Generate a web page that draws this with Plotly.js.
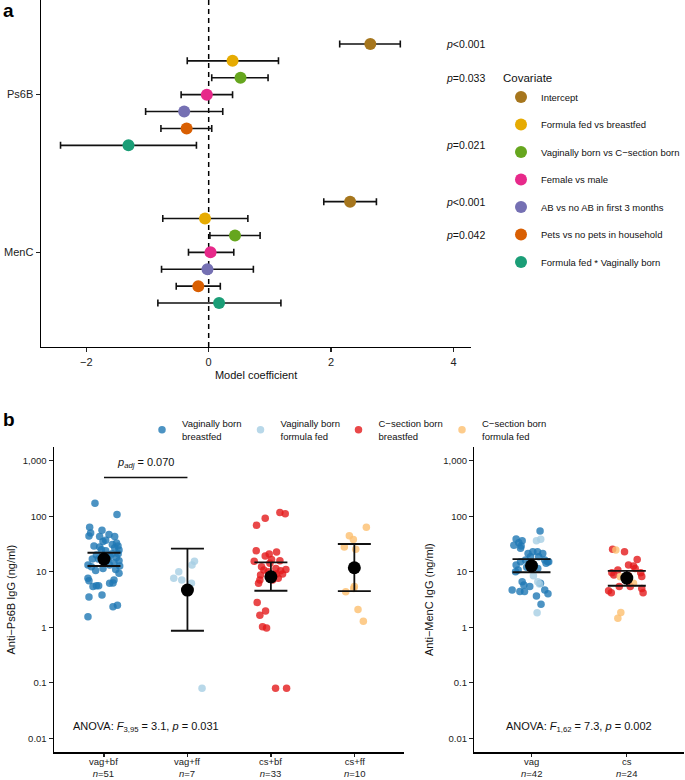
<!DOCTYPE html>
<html><head><meta charset="utf-8">
<script src="https://cdn.plot.ly/plotly-3.0.1.min.js"></script>
<style>html,body{margin:0;padding:0;background:#fff}#chart{width:685px;height:780px}</style>
</head><body><div id="chart"></div>
<script>
// ---------- Panel a data ----------
const covariates = ['Intercept','Formula fed vs breastfed','Vaginally born vs C\u2212section born','Female vs male','AB vs no AB in first 3 months','Pets vs no pets in household','Formula fed * Vaginally born'];
const covColors = ['#A6761D','#E6AB02','#66A61E','#E7298A','#7570B3','#D95F02','#1B9E77'];
const antigens = ['MenC','Ps6B'];
const coefPs6B = [2.64, 0.39, 0.52, -0.03, -0.40, -0.36, -1.31];
const lowPs6B  = [2.14, -0.35, 0.05, -0.45, -1.03, -0.78, -2.42];
const highPs6B = [3.13, 1.14, 0.97, 0.39, 0.23, 0.05, -0.20];
const coefMenC = [2.31, -0.06, 0.43, 0.03, -0.02, -0.17, 0.17];
const lowMenC  = [1.88, -0.75, 0.02, -0.33, -0.77, -0.53, -0.83];
const highMenC = [2.74, 0.64, 0.84, 0.41, 0.73, 0.19, 1.18];
const pvalPs6B = ['&lt;0.001', '', '=0.033', '', '', '', '=0.021'];
const pvalMenC = ['&lt;0.001', '', '=0.042', '', '', '', ''];

// ---------- Panel b data ----------
const subgroups = ['Vaginally born<br>breastfed','Vaginally born<br>formula fed','C\u2212section born<br>breastfed','C\u2212section born<br>formula fed'];
const subColors = ['#1F78B4','#A6CEE3','#E31A1C','#FDBF6F'];
const groupsPs6B = ['vag+bf','vag+ff','cs+bf','cs+ff'];
const nPs6B = [51, 7, 33, 10];
const gmeanPs6B = [16.9, 4.68, 8.1, 11.8];
const ciLowPs6B = [12.7, 0.865, 4.55, 4.49];
const ciHighPs6B = [22.0, 26, 14.8, 31.6];
const groupsMenC = ['vag','cs'];
const nMenC = [42, 24];
const gmeanMenC = [12.8, 7.7];
const ciLowMenC = [9.8, 5.6];
const ciHighMenC = [16.9, 10.4];
const padjText = '<i>p</i><sub><i>adj</i></sub> = 0.070';
const padjLevel = 500;
const anovaPs6B = 'ANOVA: <i>F</i><sub>3,95</sub> = 3.1, <i>p</i> = 0.031';
const anovaMenC = 'ANOVA: <i>F</i><sub>1,62</sub> = 7.3, <i>p</i> = 0.002';

// Ps6B individual values (ng/ml) with horizontal jitter (category units)
const ps6bVagBf = [171,107,63,56,50,44,43,47,43,37,35,29,28,29,27,24.6,21,20,17,18,16.7,15.8,13.2,12.3,13.2,12.7,11.5,9.4,7.6,6.9,7.1,6.3,6.2,5.6,5.6,5.4,3.8,3.5,2.5,2.35,1.55,31,33,25,19,21,17,24,14.5,10.5,11];
const jitVagBf  = [-0.108,0.156,-0.172,-0.024,-0.160,-0.180,-0.052,0.060,0.128,0.020,-0.012,-0.120,-0.052,0.168,0.128,0.180,0.096,-0.091,-0.067,0.149,0.048,0.180,-0.192,-0.151,0.068,0.188,-0.012,0.180,-0.192,-0.180,0.120,0.108,0.068,-0.091,-0.064,-0.132,-0.024,-0.180,0.161,0.108,-0.192,0.10,0.15,-0.03,0.07,0.17,-0.14,0.02,0.12,-0.10,0.14];
const ps6bVagFf = [15.4,13.2,10,7.6,7.1,6.2,0.08];
const jitVagFf  = [0.084,0.055,-0.104,-0.164,-0.068,0.048,0.175];
const ps6bCsBf = [117,111,92,69,24,22.7,20.8,19.2,15.4,16.7,15.8,11.5,11.0,10.7,10.4,8.7,9.1,8.7,7.1,7.6,6.2,7.1,2.8,1.96,1.64,1.02,0.97,0.08,0.08,14.2,10,9.1,12.3];
const jitCsBf  = [0.108,0.172,-0.068,-0.172,-0.176,0.068,-0.020,-0.068,-0.200,0.008,0.108,0.060,0.180,-0.084,0.116,-0.124,0.068,0.036,-0.132,0.088,-0.148,0.020,-0.164,-0.064,-0.132,-0.100,-0.052,0.056,0.188,-0.012,-0.032,0.140,-0.112];
const ps6bCsFf = [63,44.6,38,28,25.3,4.36,5.0,2.1,1.29,5.4];
const jitCsFf  = [0.144,-0.060,-0.012,-0.120,0.017,-0.103,-0.007,0.044,0.108,0.0];

// MenC individual values
const mencVagBf = [54,38.8,33.4,30,36,29,21.4,23,23,21.4,18.6,18.6,16.3,15.2,16.3,15.2,13.2,10.7,14.2,15.2,6.6,5.75,5.4,4.7,4.4,4.4,4.7,4.0,3.65,2.6,26.4,10,11.4,6.2,13,12];
const jitMVagBf = [0.090,-0.161,-0.133,-0.185,-0.098,-0.109,-0.036,0.014,0.063,0.118,-0.010,0.076,0.139,0.170,-0.063,-0.115,-0.161,-0.140,0.153,0.181,-0.098,-0.080,-0.018,-0.203,-0.122,-0.073,0.139,0.173,0.052,0.100,-0.115,-0.167,0.066,0.094,0.03,-0.05];
const mencVagFf = [36.3,38.4,6.6,6.0,1.82,8.5];
const jitMVagFf = [0.052,0.097,0.066,0.084,0.059,0.02];
const mencCsBf = [25.3,22.9,16.7,13.2,12.7,11.5,10.7,9.6,8.7,8.5,9.6,8.2,4.55,4.2,5.4,5.4,4.2,5.0];
const jitMCsBf = [-0.149,-0.024,0.109,0.018,0.070,0.088,-0.094,-0.157,-0.136,0.018,0.146,0.157,-0.191,-0.163,-0.079,0.036,0.171,0.157];
const mencCsFf = [24.6,8.1,6.2,1.85,1.45,7.6];
const jitMCsFf = [-0.115,-0.069,0.070,-0.063,-0.094,0.0];

// ---------- build ----------
const FONT = 'Liberation Sans, Arial, Helvetica, sans-serif';
const dodge = 0.75 / covariates.length;
const traces = [];

covariates.forEach((name, i) => {
  const off = (3 - i) * dodge;
  traces.push({
    type: 'scatter', mode: 'markers', name: name,
    x: [coefMenC[i], coefPs6B[i]],
    y: [1 + off, 2 + off],
    xaxis: 'x', yaxis: 'y',
    marker: {size: 12, color: covColors[i]},
    error_x: {type: 'data', symmetric: false,
      array: [highMenC[i] - coefMenC[i], highPs6B[i] - coefPs6B[i]],
      arrayminus: [coefMenC[i] - lowMenC[i], coefPs6B[i] - lowPs6B[i]],
      color: '#111', thickness: 1.6, width: 3.5},
    legend: 'legend', legendgroup: 'c' + i, hoverinfo: 'skip'
  });
});

const subLegends = ['legend2', 'legend3', 'legend4', 'legend5'];
function pts(vals, jit, cat, k, xa, ya, show) {
  return {type: 'scatter', mode: 'markers', name: subgroups[k],
    x: vals.map((v, j) => cat + jit[j]), y: vals,
    xaxis: xa, yaxis: ya,
    marker: {size: 7.5, color: subColors[k], opacity: 0.8},
    legend: subLegends[k], showlegend: show, hoverinfo: 'skip'};
}
traces.push(pts(ps6bVagBf, jitVagBf, 1, 0, 'x2', 'y2', true));
traces.push(pts(ps6bVagFf, jitVagFf, 2, 1, 'x2', 'y2', true));
traces.push(pts(ps6bCsBf, jitCsBf, 3, 2, 'x2', 'y2', true));
traces.push(pts(ps6bCsFf, jitCsFf, 4, 3, 'x2', 'y2', true));
traces.push(pts(mencVagBf, jitMVagBf, 1, 0, 'x3', 'y3', false));
traces.push(pts(mencVagFf, jitMVagFf, 1, 1, 'x3', 'y3', false));
traces.push(pts(mencCsBf, jitMCsBf, 2, 2, 'x3', 'y3', false));
traces.push(pts(mencCsFf, jitMCsFf, 2, 3, 'x3', 'y3', false));

traces.push({type: 'scatter', mode: 'markers', x: [1,2,3,4], y: gmeanPs6B, xaxis: 'x2', yaxis: 'y2',
  marker: {size: 13, color: '#000'}, showlegend: false, hoverinfo: 'skip',
  error_y: {type: 'data', symmetric: false,
    array: gmeanPs6B.map((m, k) => ciHighPs6B[k] - m),
    arrayminus: gmeanPs6B.map((m, k) => m - ciLowPs6B[k]),
    color: '#111', thickness: 1.8, width: 16.5}});
traces.push({type: 'scatter', mode: 'markers', x: [1,2], y: gmeanMenC, xaxis: 'x3', yaxis: 'y3',
  marker: {size: 13, color: '#000'}, showlegend: false, hoverinfo: 'skip',
  error_y: {type: 'data', symmetric: false,
    array: gmeanMenC.map((m, k) => ciHighMenC[k] - m),
    arrayminus: gmeanMenC.map((m, k) => m - ciLowMenC[k]),
    color: '#111', thickness: 1.8, width: 19}});
traces.push({type: 'scatter', mode: 'lines', x: [1, 2], y: [padjLevel, padjLevel], xaxis: 'x2', yaxis: 'y2',
  line: {color: '#111', width: 1.5}, showlegend: false, hoverinfo: 'skip'});

const annotations = [];
covariates.forEach((c, i) => {
  const off = (3 - i) * dodge;
  if (pvalPs6B[i]) annotations.push({xref: 'x', yref: 'y', x: 3.85, y: 2 + off, xanchor: 'left', text: '<i>p</i>' + pvalPs6B[i], showarrow: false, font: {size: 10.5, color: '#111'}});
  if (pvalMenC[i]) annotations.push({xref: 'x', yref: 'y', x: 3.85, y: 1 + off, xanchor: 'left', text: '<i>p</i>' + pvalMenC[i], showarrow: false, font: {size: 10.5, color: '#111'}});
});
annotations.push({xref: 'x2', yref: 'y2', x: 1.5, y: Math.log10(padjLevel) + 0.26, text: padjText, showarrow: false, font: {size: 11, color: '#111'}});
annotations.push({xref: 'x2', yref: 'y2', x: 1.5, y: -1.793, text: anovaPs6B, showarrow: false, font: {size: 11, color: '#111'}});
annotations.push({xref: 'x3', yref: 'y3', x: 1.5, y: -1.793, text: anovaMenC, showarrow: false, font: {size: 11, color: '#111'}});
// category labels (group name + n) under panel b axes
groupsPs6B.forEach((g, k) => annotations.push({xref: 'x2', yref: 'paper', x: k + 1, y: 0, yanchor: 'bottom',
  text: g + '<br><i>n</i>=' + nPs6B[k], showarrow: false, font: {size: 9.5, color: '#222'}, borderpad: 0}));
groupsMenC.forEach((g, k) => annotations.push({xref: 'x3', yref: 'paper', x: k + 1, y: 0, yanchor: 'bottom',
  text: g + '<br><i>n</i>=' + nMenC[k], showarrow: false, font: {size: 9.5, color: '#222'}, borderpad: 0}));
annotations.push({xref: 'paper', yref: 'paper', x: 0.002, y: 1.003, xanchor: 'left', yanchor: 'top', text: '<b>a</b>', showarrow: false, font: {size: 19, color: '#000'}});
annotations.push({xref: 'paper', yref: 'paper', x: 0.002, y: 1 - 407/780, xanchor: 'left', yanchor: 'top', text: '<b>b</b>', showarrow: false, font: {size: 19, color: '#000'}});

const axBase = {showline: true, linecolor: '#000', linewidth: 1.4, ticks: 'outside', ticklen: 4, tickwidth: 1.3, tickcolor: '#222',
  showgrid: false, zeroline: false, tickfont: {size: 11, color: '#222'}, fixedrange: true};
const axB = Object.assign({}, axBase, {tickfont: {size: 9.5, color: '#222'}});
const logTicks = [0.01, 0.1, 1, 10, 100, 1000];
const logText = ['0.01', '0.1', '1', '10', '100', '1,000'];

const subLegendX = [142, 240.5, 338.5, 442];
const layout = {
  width: 685, height: 780, margin: {l: 0, r: 0, t: 0, b: 0},
  paper_bgcolor: '#fff', plot_bgcolor: 'rgba(0,0,0,0)',
  font: {family: FONT, color: '#111', size: 11},
  hovermode: false,
  xaxis: Object.assign({}, axBase, {domain: [41/685, 472/685], anchor: 'y', range: [-2.74, 4.29], tickvals: [-2, 0, 2, 4],
    title: {text: 'Model coefficient', font: {size: 11}, standoff: 4}}),
  yaxis: Object.assign({}, axBase, {domain: [1 - 347/780, 1], anchor: 'x', range: [0.4, 2.6], tickvals: [1, 2], ticktext: antigens}),
  xaxis2: Object.assign({}, axB, {domain: [54/685, 405/685], anchor: 'y2', range: [0.4, 4.6], tickvals: [1,2,3,4], showticklabels: false, ticklen: 3}),
  yaxis2: Object.assign({}, axB, {domain: [1 - 752.3/780, 1 - 447/780], anchor: 'x2', type: 'log', range: [-2.252, 3.247],
    tickvals: logTicks, ticktext: logText, title: {text: 'Anti\u2212Ps6B IgG (ng/ml)', font: {size: 11}, standoff: 5}}),
  xaxis3: Object.assign({}, axB, {domain: [475/685, 1], anchor: 'y3', range: [0.4, 2.6], tickvals: [1,2], showticklabels: false, ticklen: 3}),
  yaxis3: Object.assign({}, axB, {domain: [1 - 752.3/780, 1 - 447/780], anchor: 'x3', type: 'log', range: [-2.252, 3.247],
    tickvals: logTicks, ticktext: logText, title: {text: 'Anti\u2212MenC IgG (ng/ml)', font: {size: 11}, standoff: 7}}),
  shapes: [{type: 'line', xref: 'x', yref: 'y domain', x0: 0, x1: 0, y0: 0, y1: 1, layer: 'below',
    line: {color: '#000', width: 1.5, dash: '5px,4px'}}],
  annotations: annotations,
  legend: {x: 502/685, y: 1 - 67.5/780, xanchor: 'left', yanchor: 'top', bgcolor: 'rgba(0,0,0,0)',
    title: {text: 'Covariate', font: {size: 11.5}}, font: {size: 9.5, color: '#111'}, tracegroupgap: 8.5}
};
subLegends.forEach((lg, k) => {
  layout[lg] = {x: subLegendX[k]/685, y: 1 - 411/780, xanchor: 'left', yanchor: 'top', orientation: 'h',
    bgcolor: 'rgba(0,0,0,0)', font: {size: 9.5, color: '#111'}};
});

Plotly.newPlot('chart', traces, layout, {staticPlot: true, displayModeBar: false});
</script>
</body></html>
